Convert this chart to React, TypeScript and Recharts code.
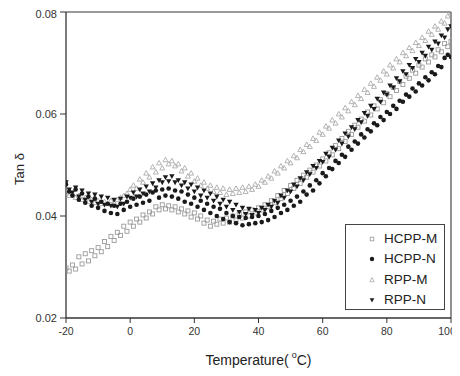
import React from 'react';
import { ScatterChart, Scatter, XAxis, YAxis, ReferenceLine, Legend } from 'recharts';

const temps = [
  -20, -19, -18, -17, -16, -15, -14, -13, -12, -11, -10, -9, -8, -7, -6, -5, -4, -3, -2, -1,
  0, 1, 2, 3, 4, 5, 6, 7, 8, 9, 10, 11, 12, 13, 14, 15, 16, 17, 18, 19,
  20, 21, 22, 23, 24, 25, 26, 27, 28, 29, 30, 31, 32, 33, 34, 35, 36, 37, 38, 39,
  40, 41, 42, 43, 44, 45, 46, 47, 48, 49, 50, 51, 52, 53, 54, 55, 56, 57, 58, 59,
  60, 61, 62, 63, 64, 65, 66, 67, 68, 69, 70, 71, 72, 73, 74, 75, 76, 77, 78, 79,
  80, 81, 82, 83, 84, 85, 86, 87, 88, 89, 90, 91, 92, 93, 94, 95, 96, 97, 98, 99, 100,
];

const hcppM = [
  0.0298, 0.0292, 0.0304, 0.0296, 0.0320, 0.0306, 0.0326, 0.0312, 0.0332, 0.0322, 0.0338, 0.0330, 0.0350, 0.0340, 0.0360, 0.0352, 0.0368, 0.0362, 0.0380, 0.0370,
  0.0388, 0.0380, 0.0394, 0.0388, 0.0402, 0.0396, 0.0408, 0.0404, 0.0418, 0.0412, 0.0422, 0.0414, 0.0420, 0.0412, 0.0418, 0.0408, 0.0414, 0.0404, 0.0410, 0.0398,
  0.0406, 0.0394, 0.0400, 0.0386, 0.0392, 0.0380, 0.0390, 0.0384, 0.0394, 0.0386, 0.0396, 0.0388, 0.0400, 0.0392, 0.0404, 0.0396, 0.0408, 0.0400, 0.0412, 0.0406,
  0.0416, 0.0412, 0.0422, 0.0418, 0.0430, 0.0426, 0.0440, 0.0434, 0.0450, 0.0444, 0.0460, 0.0454, 0.0470, 0.0464, 0.0480, 0.0476, 0.0490, 0.0486, 0.0500, 0.0498,
  0.0512, 0.0508, 0.0524, 0.0520, 0.0538, 0.0532, 0.0552, 0.0546, 0.0566, 0.0560, 0.0578, 0.0574, 0.0590, 0.0586, 0.0604, 0.0598, 0.0616, 0.0610, 0.0628, 0.0622,
  0.0640, 0.0634, 0.0652, 0.0646, 0.0664, 0.0658, 0.0674, 0.0670, 0.0686, 0.0680, 0.0696, 0.0692, 0.0708, 0.0702, 0.0716, 0.0712, 0.0726, 0.0722, 0.0738, 0.0732, 0.0742,
];

const hcppN = [
  0.0462, 0.0448, 0.0440, 0.0452, 0.0432, 0.0444, 0.0426, 0.0438, 0.0420, 0.0434, 0.0416, 0.0428, 0.0410, 0.0424, 0.0406, 0.0420, 0.0404, 0.0424, 0.0412, 0.0428,
  0.0418, 0.0434, 0.0422, 0.0438, 0.0426, 0.0442, 0.0430, 0.0446, 0.0450, 0.0436, 0.0452, 0.0440, 0.0454, 0.0438, 0.0450, 0.0434, 0.0448, 0.0428, 0.0442, 0.0424,
  0.0436, 0.0418, 0.0430, 0.0412, 0.0424, 0.0406, 0.0418, 0.0400, 0.0414, 0.0394, 0.0406, 0.0388, 0.0400, 0.0386, 0.0398, 0.0382, 0.0396, 0.0384, 0.0398, 0.0386,
  0.0400, 0.0388, 0.0404, 0.0392, 0.0410, 0.0398, 0.0416, 0.0406, 0.0422, 0.0412, 0.0430, 0.0420, 0.0438, 0.0428, 0.0448, 0.0442, 0.0460, 0.0450, 0.0470, 0.0464,
  0.0484, 0.0478, 0.0494, 0.0492, 0.0508, 0.0504, 0.0520, 0.0516, 0.0536, 0.0530, 0.0546, 0.0542, 0.0560, 0.0554, 0.0570, 0.0566, 0.0582, 0.0578, 0.0594, 0.0588,
  0.0604, 0.0600, 0.0616, 0.0610, 0.0626, 0.0624, 0.0638, 0.0634, 0.0650, 0.0644, 0.0660, 0.0656, 0.0672, 0.0666, 0.0682, 0.0678, 0.0694, 0.0692, 0.0710, 0.0716, 0.0712,
];

const rppM = [
  0.0446, 0.0440, 0.0444, 0.0436, 0.0440, 0.0432, 0.0436, 0.0428, 0.0432, 0.0426, 0.0430, 0.0424, 0.0428, 0.0424, 0.0430, 0.0426, 0.0432, 0.0436, 0.0440, 0.0444,
  0.0452, 0.0460, 0.0454, 0.0472, 0.0466, 0.0484, 0.0476, 0.0496, 0.0486, 0.0504, 0.0494, 0.0510, 0.0502, 0.0508, 0.0498, 0.0502, 0.0488, 0.0494, 0.0478, 0.0484,
  0.0468, 0.0474, 0.0460, 0.0466, 0.0454, 0.0460, 0.0448, 0.0456, 0.0446, 0.0454, 0.0442, 0.0452, 0.0444, 0.0454, 0.0446, 0.0456, 0.0448, 0.0458, 0.0452, 0.0462,
  0.0458, 0.0470, 0.0466, 0.0478, 0.0474, 0.0488, 0.0484, 0.0498, 0.0494, 0.0508, 0.0504, 0.0518, 0.0514, 0.0530, 0.0526, 0.0540, 0.0536, 0.0552, 0.0548, 0.0564,
  0.0560, 0.0576, 0.0572, 0.0588, 0.0582, 0.0600, 0.0594, 0.0612, 0.0606, 0.0624, 0.0618, 0.0636, 0.0630, 0.0648, 0.0642, 0.0660, 0.0654, 0.0672, 0.0666, 0.0684,
  0.0678, 0.0696, 0.0690, 0.0708, 0.0702, 0.0720, 0.0714, 0.0730, 0.0724, 0.0740, 0.0734, 0.0750, 0.0744, 0.0762, 0.0756, 0.0772, 0.0766, 0.0782, 0.0778, 0.0792, 0.0798,
];

const rppN = [
  0.0466, 0.0452, 0.0446, 0.0456, 0.0438, 0.0450, 0.0432, 0.0444, 0.0428, 0.0442, 0.0424, 0.0438, 0.0422, 0.0436, 0.0420, 0.0432, 0.0418, 0.0434, 0.0424, 0.0438,
  0.0436, 0.0446, 0.0438, 0.0452, 0.0444, 0.0458, 0.0448, 0.0464, 0.0456, 0.0470, 0.0466, 0.0476, 0.0468, 0.0478, 0.0466, 0.0470, 0.0460, 0.0466, 0.0454, 0.0462,
  0.0448, 0.0456, 0.0440, 0.0450, 0.0436, 0.0444, 0.0430, 0.0438, 0.0424, 0.0432, 0.0418, 0.0428, 0.0412, 0.0422, 0.0408, 0.0416, 0.0404, 0.0414, 0.0402, 0.0412,
  0.0406, 0.0416, 0.0412, 0.0422, 0.0418, 0.0430, 0.0426, 0.0440, 0.0436, 0.0450, 0.0448, 0.0462, 0.0458, 0.0474, 0.0470, 0.0486, 0.0482, 0.0498, 0.0494, 0.0508,
  0.0506, 0.0522, 0.0516, 0.0534, 0.0530, 0.0548, 0.0542, 0.0562, 0.0556, 0.0574, 0.0570, 0.0588, 0.0584, 0.0602, 0.0596, 0.0616, 0.0610, 0.0630, 0.0624, 0.0642,
  0.0638, 0.0656, 0.0652, 0.0670, 0.0664, 0.0684, 0.0678, 0.0696, 0.0690, 0.0708, 0.0702, 0.0720, 0.0714, 0.0732, 0.0726, 0.0742, 0.0738, 0.0754, 0.0750, 0.0766, 0.0772,
];

const xTicks = [-20, 0, 20, 40, 60, 80, 100];
const yTicks = [0.02, 0.04, 0.06, 0.08];
const seriesNames = ['HCPP-M', 'HCPP-N', 'RPP-M', 'RPP-N'];

const FONT = '"Liberation Sans", Arial, Helvetica, sans-serif';
const GREY = '#9a9a9a';
const DARK = '#1a1a1a';

const toPoints = (vals: number[]) => temps.map((t, i) => ({ x: t, y: vals[i] }));

const OpenSquare = (p: any) => (
  <rect x={p.cx - 2} y={p.cy - 2} width={4} height={4} fill="none" stroke={GREY} strokeWidth={0.9} />
);
const FilledCircle = (p: any) => <circle cx={p.cx} cy={p.cy} r={2.3} fill={DARK} />;
const OpenTriangle = (p: any) => (
  <polygon
    points={`${p.cx},${p.cy - 2.6} ${p.cx - 2.5},${p.cy + 1.9} ${p.cx + 2.5},${p.cy + 1.9}`}
    fill="none"
    stroke="#aaaaaa"
    strokeWidth={0.9}
  />
);
const DownTriangle = (p: any) => (
  <polygon
    points={`${p.cx - 2.7},${p.cy - 2} ${p.cx + 2.7},${p.cy - 2} ${p.cx},${p.cy + 2.8}`}
    fill={DARK}
  />
);

const XTick = (props: any) => {
  const { x, y, payload } = props;
  const v = payload.value;
  const shift = v === 100 ? -4 : 0;
  return (
    <text x={x + shift} y={y} dy="0.71em" textAnchor="middle" fontFamily={FONT} fontSize={10.5} fill="#333">
      {v}
    </text>
  );
};

const YLabel = (props: any) => {
  const vb = props.viewBox || { x: 0, y: 0, width: 58, height: 306 };
  const cx = vb.x + 11;
  const cy = vb.y + vb.height / 2 + 4;
  return (
    <text
      x={cx}
      y={cy}
      transform={`rotate(-90, ${cx}, ${cy})`}
      textAnchor="middle"
      dominantBaseline="central"
      fontFamily={FONT}
      fontSize={13}
      fill="#222"
    >
      Tan δ
    </text>
  );
};

const XLabel = (props: any) => {
  const vb = props.viewBox || { x: 58, y: 310, width: 386, height: 50 };
  const cx = vb.x + vb.width / 2;
  const cy = vb.y + 42;
  return (
    <text x={cx} y={cy} textAnchor="middle" dominantBaseline="central" fontFamily={FONT} fontSize={14} fill="#222">
      Temperature(<tspan dx={3} dy={-5} fontSize={9}>o</tspan>
      <tspan dy={5}>C)</tspan>
    </text>
  );
};

const legendSymbols = [
  (x: number, y: number) => <rect x={x - 1.8} y={y - 1.8} width={3.6} height={3.6} fill="none" stroke={GREY} strokeWidth={0.8} />,
  (x: number, y: number) => <circle cx={x} cy={y} r={2.2} fill={DARK} />,
  (x: number, y: number) => (
    <polygon points={`${x},${y - 2.3} ${x - 2.2},${y + 1.7} ${x + 2.2},${y + 1.7}`} fill="none" stroke="#aaaaaa" strokeWidth={0.8} />
  ),
  (x: number, y: number) => <polygon points={`${x - 2.3},${y - 1.7} ${x + 2.3},${y - 1.7} ${x},${y + 2.4}`} fill={DARK} />,
];

const LegendBox = () => (
  <div
    style={{
      width: 100,
      height: 86,
      boxSizing: 'border-box',
      border: '1.3px solid #444',
      background: '#fff',
      paddingTop: 4,
    }}
  >
    {seriesNames.map((name, i) => (
      <div key={name} style={{ display: 'flex', alignItems: 'center', height: 20.3 }}>
        <svg width={38} height={20} style={{ display: 'block' }}>
          {legendSymbols[i](26, 10)}
        </svg>
        <span style={{ fontFamily: FONT, fontSize: 13.5, color: '#222', lineHeight: '20px' }}>{name}</span>
      </div>
    ))}
  </div>
);

export default function App() {
  return (
    <ScatterChart width={452} height={360} margin={{ top: 4, right: 9, bottom: 0, left: 0 }}>
      <XAxis
        type="number"
        dataKey="x"
        domain={[-20, 100]}
        ticks={xTicks}
        interval={0}
        allowDataOverflow
        tickSize={5}
        tickMargin={5}
        height={50}
        axisLine={{ stroke: '#333', strokeWidth: 1.3 }}
        tickLine={{ stroke: '#333' }}
        tick={<XTick />}
        label={<XLabel />}
      />
      <YAxis
        type="number"
        dataKey="y"
        domain={[0.02, 0.08]}
        ticks={yTicks}
        allowDataOverflow
        tickFormatter={(v: number) => v.toFixed(2)}
        tickSize={6}
        tickMargin={3}
        width={58}
        axisLine={{ stroke: '#333', strokeWidth: 1.3 }}
        tickLine={{ stroke: '#333' }}
        tick={{ fontFamily: FONT, fontSize: 11, fill: '#333' }}
        label={<YLabel />}
      />
      <ReferenceLine y={0.08} stroke="#999" strokeWidth={2} ifOverflow="extendDomain" />
      <ReferenceLine x={100} stroke="#555" strokeWidth={1.3} ifOverflow="extendDomain" />
      <Scatter name="HCPP-M" data={toPoints(hcppM)} shape={OpenSquare} isAnimationActive={false} />
      <Scatter name="RPP-M" data={toPoints(rppM)} shape={OpenTriangle} isAnimationActive={false} />
      <Scatter name="HCPP-N" data={toPoints(hcppN)} shape={FilledCircle} isAnimationActive={false} />
      <Scatter name="RPP-N" data={toPoints(rppN)} shape={DownTriangle} isAnimationActive={false} />
      <Legend
        layout="vertical"
        align="center"
        verticalAlign="middle"
        content={<LegendBox />}
        wrapperStyle={{ position: 'absolute', left: 337, top: 216, width: 100, height: 86, bottom: 'auto', right: 'auto', margin: 0 }}
      />
    </ScatterChart>
  );
}
